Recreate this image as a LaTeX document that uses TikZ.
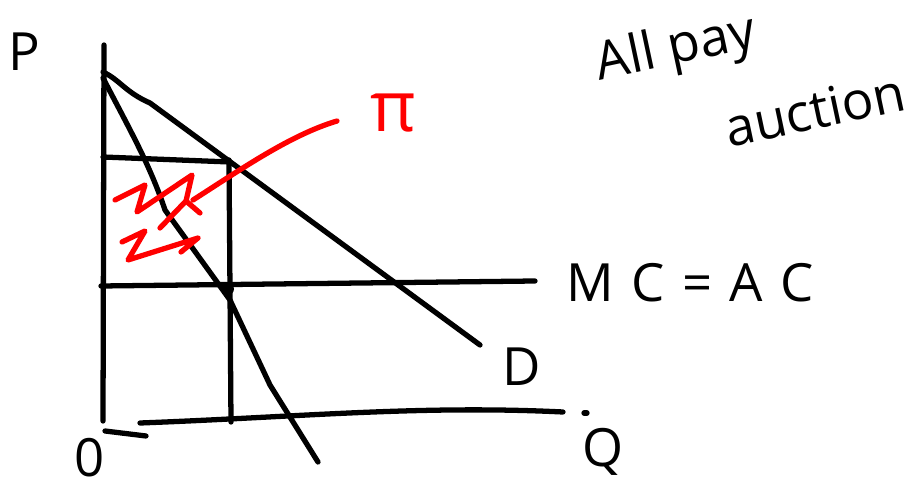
\documentclass[tikz,border=0pt]{standalone}
\usepackage{fontspec}
\setmainfont{Open Sans}
\usetikzlibrary{positioning}
\tikzstyle{pen} = [
    line width=3pt,
    line cap=round,
    line join=round,
    draw=black
]
\tikzstyle{redpen} = [
    line width=3pt,
    line cap=round,
    line join=round,
    draw=red
]
\tikzstyle{label} = [
    font=\fontsize{30}{32}\selectfont,
    inner sep=0pt
]

\begin{document}
\begin{tikzpicture}[x=0.02cm, y=-0.02cm]

\useasboundingbox (0,0) rectangle (921,489);

% axis points
\coordinate (ptop) at (104,45);
\coordinate (porig) at (103,421);
\coordinate (dashl) at (105,431);
\coordinate (dashr) at (146,436);
\coordinate (qleft) at (140,423);
\coordinate (qright) at (563,412);
\coordinate (qdot) at (584,413);

% curves
\coordinate (dtop) at (103,72);
\coordinate (dend) at (480,345);
\coordinate (mrtop) at (103,78);
\coordinate (mrend) at (318,462);
\coordinate (pml) at (103,157);
\coordinate (pmr) at (230,162);
\coordinate (qmt) at (229,160);
\coordinate (qmb) at (231,422);
\coordinate (mcl) at (101,286);
\coordinate (mcr) at (535,281);
\coordinate (eq) at (228,289);

% labels
\node (P) [label] at (24,52) {P};
\node (zero) [label] at (90,458) {0};
\node (Q) [label] at (603,452) {Q};
\node (D) [label] at (522,367) {D};
\node (mcac) [label] at (690,283) {M\,\,C\,\,=\,\,A\,\,C};
\node (allpay) [label, rotate=12] at (676,50) {All pay};
\node (auction) [label, rotate=12] at (815,110) {auction};
\node (pi) [label, red, font=\fontsize{40}{42}\selectfont] at (393,113) {π};

% axes
\draw [pen] (ptop) -- (porig);
\draw [pen] (dashl) -- (dashr);
\draw [pen] (qleft) .. controls (300,417) and (420,405) .. (qright);
\draw [pen] (qdot) -- ++(3,0);

% demand and marginal revenue
\draw [pen] (dtop) .. controls (120,80) and (125,92) .. (150,103)
    -- (dend);
\draw [pen] (mrtop) .. controls (130,130) and (150,165) .. (165,210)
    -- (230,300) -- (270,385) -- (mrend);

% monopoly price and quantity
\draw [pen] (pml) -- (pmr);
\draw [pen] (qmt) -- (qmb);
\draw [pen] (mcl) -- (mcr);
\fill (eq) circle (6);

% profit
\draw [redpen] (115,200) -- (145,185) -- (137,212) -- (192,175)
    -- (186,201) -- (200,213);
\draw [redpen] (186,201) -- (160,228);
\draw [redpen] (122,242) -- (145,231) -- (128,260) -- (198,238)
    -- (181,252);
\draw [redpen] (193,200) .. controls (240,170) and (290,135) .. (337,121);

\end{tikzpicture}
\end{document}
